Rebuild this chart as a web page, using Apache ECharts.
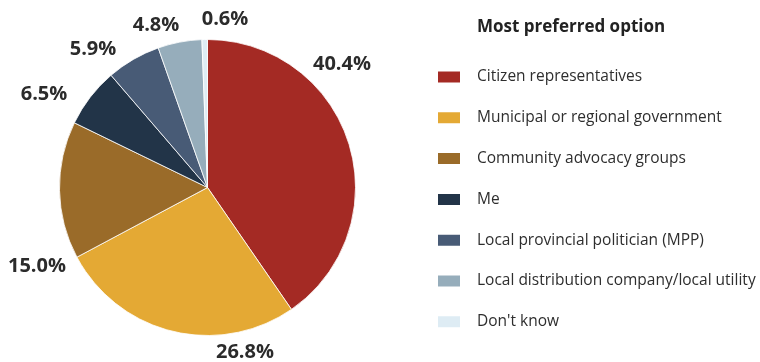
<!DOCTYPE html>
<html>
<head>
<meta charset="utf-8">
<script src="https://cdn.jsdelivr.net/npm/echarts@6/dist/echarts.min.js"></script>
<style>
  html, body { margin: 0; padding: 0; background: #fff; }
  #chart { width: 760px; height: 362px; }
</style>
</head>
<body>
<div id="chart"></div>
<script>
// categories and values (percent)
const categories = [
  'Citizen representatives',
  'Municipal or regional government',
  'Community advocacy groups',
  'Me',
  'Local provincial politician (MPP)',
  'Local distribution company/local utility',
  "Don't know"
];
const values = [40.4, 26.8, 15.0, 6.5, 5.9, 4.8, 0.6];
const colors = ['#a42a24', '#e4a934', '#9a6b29', '#223448', '#485b76', '#96adbb', '#deecf4'];
// where each percentage label sits (pixel centre)
const labelPos = [[342, 64], [245, 352], [37, 266], [44, 94], [93, 49], [156, 25], [225, 19]];

const chart = echarts.init(document.getElementById('chart'));

chart.setOption({
  animation: false,
  color: colors,
  textStyle: { fontFamily: 'Open Sans' },
  title: {
    text: 'Most preferred option',
    left: 477,
    top: 19,
    padding: 0,
    textStyle: { fontSize: 17, fontWeight: 'bold', color: '#222', fontFamily: 'Open Sans' }
  },
  legend: {
    orient: 'vertical',
    left: 436,
    top: 69,
    padding: 0,
    itemWidth: 24,
    itemHeight: 13,
    itemGap: 24.8,
    icon: 'rect',
    selectedMode: false,
    data: categories,
    textStyle: { fontSize: 15.5, color: '#2e2e2e', padding: [0, 0, 0, 11], fontFamily: 'Open Sans' }
  },
  series: [{
    type: 'pie',
    center: [207.5, 187.5],
    radius: 148,
    startAngle: 90,
    clockwise: true,
    itemStyle: { borderColor: '#fff', borderWidth: 0.8 },
    label: {
      show: true,
      position: 'outside',
      overflow: 'none',
      formatter: p => p.value.toFixed(1) + '%',
      fontSize: 20,
      fontWeight: 'bold',
      color: '#2b2b2b',
      fontFamily: 'Open Sans'
    },
    labelLine: { show: false },
    labelLayout: function (params) {
      const pos = labelPos[params.dataIndex];
      return { x: pos[0], y: pos[1], align: 'center', verticalAlign: 'middle' };
    },
    emphasis: { disabled: true },
    data: categories.map((name, i) => ({ name: name, value: values[i] }))
  }]
});
</script>
</body>
</html>
